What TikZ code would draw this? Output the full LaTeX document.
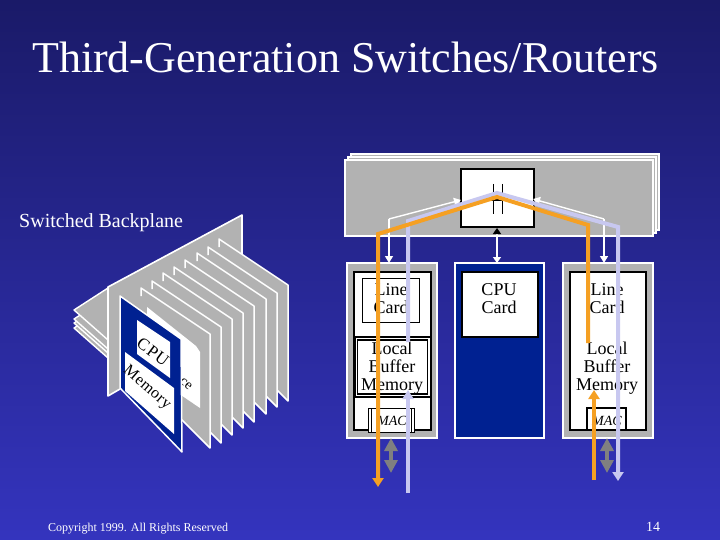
\documentclass[tikz,border=0pt]{standalone}
\usepackage{fontspec}
\setmainfont{Liberation Serif}
\usetikzlibrary{arrows.meta}
\definecolor{bgtop}{RGB}{26,26,104}
\definecolor{bgbot}{RGB}{52,52,190}
\definecolor{panel}{RGB}{178,178,178}
\definecolor{navy}{RGB}{0,33,145}
\definecolor{amber}{RGB}{245,160,35}
\definecolor{lav}{RGB}{200,200,240}
\definecolor{midgray}{RGB}{128,128,128}
\tikzset{
  x=1pt,y=-1pt,
  boxn/.style={inner sep=0pt,outer sep=0pt,anchor=north west},
  backbox/.style={boxn,draw=white,fill=panel,line width=1.2pt,minimum width=308pt,minimum height=76pt},
  linecardbox/.style={boxn,draw=white,fill=panel,line width=1.2pt,minimum width=90pt,minimum height=175pt},
  cpucardbox/.style={boxn,draw=white,fill=navy,line width=1.2pt,minimum width=89pt,minimum height=175pt},
  innerbox/.style={boxn,draw=black,fill=white,line width=1.5pt,minimum width=77pt,minimum height=158pt},
  thinbox/.style={boxn,draw=black,fill=white,line width=.6pt},
  heavybox/.style={boxn,draw=black,fill=white,line width=1.4pt},
  label/.style={font=\fontsize{18}{18}\selectfont,align=center,text=black,inner sep=0pt},
  maclabel/.style={font=\fontsize{14}{14}\selectfont\itshape,text=black,inner sep=0pt,anchor=base},
  whitetext/.style={text=white,inner sep=0pt,anchor=base west},
  planeface/.style={fill=panel,draw=white,line width=1.4pt,line join=round},
  amberline/.style={draw=amber,line width=4pt,-{Triangle[length=9pt,width=11pt]}},
  lavline/.style={draw=lav,line width=4pt,-{Triangle[length=9pt,width=11pt]}},
  whiteline/.style={draw=white,line width=1.4pt,-{Triangle[length=7pt,width=8pt]}},
  grayarrow/.style={draw=midgray,line width=4pt,{Triangle[length=13pt,width=13pt]}-{Triangle[length=13pt,width=13pt]}},
  iconline/.style={draw=black,line width=1.2pt}
}
\begin{document}
\begin{tikzpicture}
\useasboundingbox (0,0) rectangle (720,540);
\shade[top color=bgtop,bottom color=bgbot] (0,0) rectangle (720,540);

% titles
\node[whitetext,font=\fontsize{44}{44}\selectfont] (title) at (32,73) {Third-Generation Switches/Routers};
\node[whitetext,font=\fontsize{20}{20}\selectfont] (backplane) at (19,227) {Switched Backplane};
\node[whitetext,font=\fontsize{12}{12}\selectfont] (copyright) at (48,531) {Copyright 1999. All Rights Reserved};
\node[whitetext,font=\fontsize{14}{14}\selectfont] (pagenum) at (646,531) {14};

% left figure: stacked horizontal layers
\foreach \yy in {328,323,319,310}{
  \fill[panel] (74,\yy) -- (108,\yy-22) -- (108,\yy+30) -- cycle;
  \draw[white,line width=1.4pt,line join=round] (108,\yy-22) -- (74,\yy) -- (108,\yy+30);
}
% vertical back plane
\fill[panel] (242,215) -- (108,287) -- (108,396) -- (242,322) -- cycle;
\draw[white,line width=1.6pt,line join=round] (242,255) -- (242,215) -- (108,287) -- (108,396) -- (120,389);
% gray cards, back to front
\foreach \xx/\yy/\yb in {219/239/401,208/247/407,197/253/414,185/260/422,174/267/428,163/273/435,152/281/443,141/288/448}{
  \fill[panel] (\xx,\yy) -- (\xx+69,\yy+46) -- (\xx+69,\yb) -- (\xx,\yb-69) -- cycle;
  \draw[white,line width=1.5pt,line join=round] (\xx,\yy+8) -- (\xx,\yy) -- (\xx+69,\yy+46) -- (\xx+69,\yb) -- (\xx+25,\yb-44);
}
% interface card
\fill[white] (147,307) -- (196,346) -- (200,352) -- (200,408) -- (147,372) -- cycle;
\node[text=black,inner sep=0pt,rotate=-40,font=\fontsize{14}{14}\selectfont] (ifacetext) at (186,384) {ce};
% CPU card
\filldraw[draw=white,fill=navy,line width=1.5pt,line join=round] (120,296) -- (181,339) -- (182,452) -- (120,388) -- cycle;
\fill[white] (137,320) -- (170,342) -- (170,378) -- (137,354) -- cycle;
\fill[white] (125,352) -- (174,388) -- (174,434) -- (125,391) -- cycle;
\node[text=black,inner sep=0pt,rotate=-37,font=\fontsize{17}{17}\selectfont\addfontfeature{LetterSpace=6}] (cputext) at (153,352) {CPU};
\node[text=black,inner sep=0pt,rotate=-41,font=\fontsize{16}{16}\selectfont\addfontfeature{LetterSpace=3}] (memtext) at (147,388) {Memory};

% switch planes
\node[backbox] (plane3) at (351,154) {};
\node[backbox] (plane2) at (348,157) {};
\node[backbox] (plane1) at (345,160) {};
\node[boxn,draw=black,fill=white,line width=1.6pt,minimum width=73pt,minimum height=58pt] (switch) at (461,169) {};
% switch icon
\draw[iconline] (493.3,184) -- (493.3,193) (502.3,184) -- (502.3,193);
\draw[iconline] (490,200) -- (507,200);
\draw[iconline] (493.3,200) -- (493.3,214) (502.3,200) -- (502.3,214);
\draw[iconline] (491,197) .. controls (494,192) and (502,192) .. (505,197);

% cards
\node[linecardbox] (lcL) at (347,263) {};
\node[innerbox] (innerL) at (354,272) {};
\node[thinbox,minimum width=57pt,minimum height=44pt] (lineL) at (362,278) {};
\node[boxn,draw=black,fill=white,line width=1.2pt,minimum width=76pt,minimum height=60pt] (buffoutL) at (355,337) {};
\node[boxn,draw=black,fill=white,line width=1.2pt,minimum width=70pt,minimum height=54pt] (buffL) at (357.5,340) {};
\node[thinbox,minimum width=46pt,minimum height=24pt] (macoutL) at (368,408) {};
\node[thinbox,minimum width=40pt,minimum height=24pt] (macL) at (371,408) {};

\node[cpucardbox] (cc) at (455,263) {};
\node[heavybox,minimum width=76pt,minimum height=65pt] (ccin) at (462,272) {};

\node[linecardbox] (lcR) at (563,263) {};
\node[innerbox,minimum width=76pt] (innerR) at (570,272) {};
\node[heavybox,minimum width=39pt,minimum height=22pt] (macR) at (587,408) {};

% card text
\node[label] (t1) at (391,299) {Line\\Card};
\node[label] (t2) at (392,368) {Local\\Buffer\\Memory};
\node[maclabel] (t3) at (392,425) {MAC};
\node[label] (t4) at (499,299) {CPU\\Card};
\node[label] (t5) at (607,299) {Line\\Card};
\node[label] (t6) at (607,368) {Local\\Buffer\\Memory};
\node[maclabel] (t7) at (607,425) {MAC};

% way points
\coordinate (wl1) at (389,219);
\coordinate (wl2) at (389,263);
\coordinate (wr1) at (604,219);
\coordinate (wr2) at (604,263);
\coordinate (wlh) at (461,200);
\coordinate (wrh) at (533,199);
\coordinate (cc1) at (497,263);
\coordinate (cc2) at (497,228);
\coordinate (a1) at (588,343);
\coordinate (a2) at (588,225);
\coordinate (a3) at (497,197);
\coordinate (a4) at (378,234);
\coordinate (a5) at (378,487);
\coordinate (b1) at (408,342);
\coordinate (b2) at (408,221);
\coordinate (b3) at (497,193);
\coordinate (b4) at (618,227);
\coordinate (b5) at (618,481);
\coordinate (c1) at (408,493);
\coordinate (c2) at (408,390);
\coordinate (d1) at (594,480);
\coordinate (d2) at (594,390);
\coordinate (g1) at (391,438);
\coordinate (g2) at (391,473);
\coordinate (g3) at (607,438);
\coordinate (g4) at (607,473);

% connectors
\draw[whiteline] (wl1) -- (wl2);
\draw[whiteline] (wl1) -- (wlh);
\draw[whiteline] (wr1) -- (wr2);
\draw[whiteline] (wr1) -- (wrh);
\draw[draw=white,line width=1.4pt,{Triangle[length=6pt,width=8pt,black]}-{Triangle[length=6pt,width=8pt]}] (cc2) -- (cc1);
\draw[lavline,line join=miter] (b1) -- (b2) -- (b3) -- (b4) -- (b5);
\draw[lavline] (c1) -- (c2);
\draw[amberline,line join=miter] (a1) -- (a2) -- (a3) -- (a4) -- (a5);
\draw[amberline] (d1) -- (d2);
\draw[grayarrow] (g1) -- (g2);
\draw[grayarrow] (g3) -- (g4);
\end{tikzpicture}
\end{document}
